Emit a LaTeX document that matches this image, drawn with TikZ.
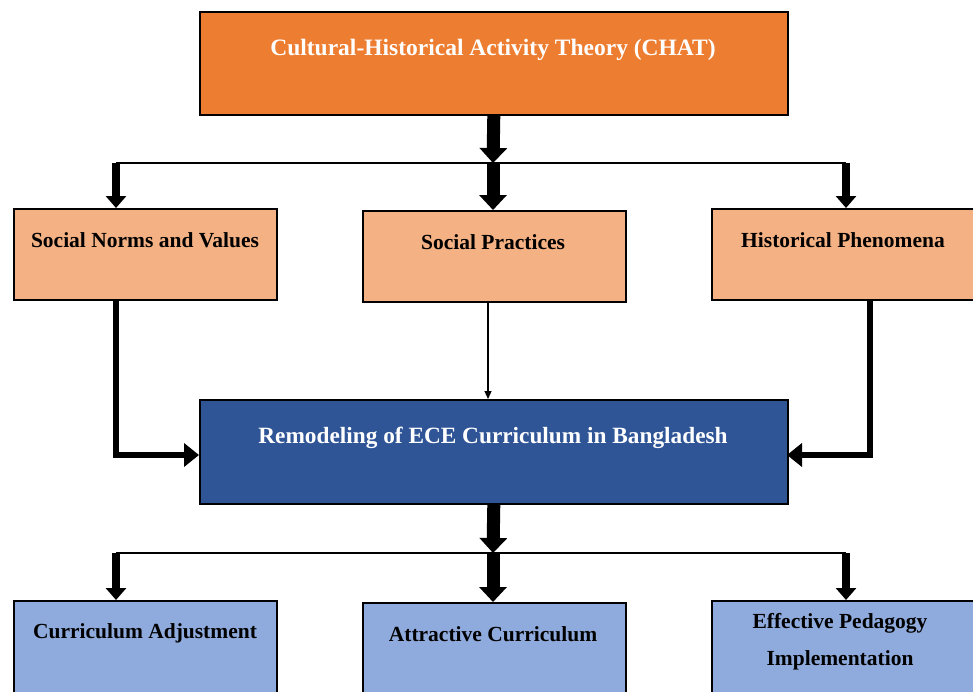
\documentclass[tikz,border=0pt]{standalone}
\usepackage{fontspec}
\setmainfont{Liberation Serif}
\usetikzlibrary{arrows.meta}
\definecolor{orangeA}{HTML}{ED7D31}
\definecolor{peach}{HTML}{F4B183}
\definecolor{navy}{HTML}{2F5597}
\definecolor{lblue}{HTML}{8FAADC}
\begin{document}
\begin{tikzpicture}[x=1pt,y=-1pt,
  box/.style={draw=black,line width=1.6pt,anchor=north west,inner sep=0pt},
  lbl/.style={font=\bfseries\fontsize{21.5}{24}\selectfont,inner sep=0pt,align=center},
  bigarrow/.style={line width=13pt,-{Triangle[width=27pt,length=15pt]}},
  elbow/.style={line width=6pt,-{Triangle[width=23pt,length=15pt]}},
  smallarrow/.style={line width=8pt,-{Triangle[width=20pt,length=12pt]}},
  thin/.style={line width=1.8pt}]
\useasboundingbox (0,0) rectangle (973,691);
\begin{scope}
\clip (0,0) rectangle (973,691);
% boxes
\node[box,fill=orangeA,minimum width=588pt,minimum height=103pt] (top) at (199,11) {};
\node[box,fill=peach,minimum width=263pt,minimum height=91pt] (b1) at (13,208) {};
\node[box,fill=peach,minimum width=263pt,minimum height=91pt] (b2) at (362,210) {};
\node[box,fill=peach,minimum width=263pt,minimum height=91pt] (b3) at (711,208) {};
\node[box,fill=navy,minimum width=588pt,minimum height=104pt] (mid) at (199,399) {};
\node[box,fill=lblue,minimum width=263pt,minimum height=100pt] (c1) at (13,600) {};
\node[box,fill=lblue,minimum width=263pt,minimum height=100pt] (c2) at (362,602) {};
\node[box,fill=lblue,minimum width=263pt,minimum height=100pt] (c3) at (711,600) {};
% texts
\node[lbl,text=white,font=\bfseries\fontsize{23.5}{26}\selectfont] (ttop) at (493,50) {Cultural-Historical Activity Theory (CHAT)};
\node[lbl] (t1) at (145,240) {Social Norms and Values};
\node[lbl] (t2) at (493,242) {Social Practices};
\node[lbl] (t3) at (843,240) {Historical Phenomena};
\node[lbl,text=white,font=\bfseries\fontsize{23.3}{26}\selectfont] (tmid) at (493,438) {Remodeling of ECE Curriculum in Bangladesh};
\node[lbl] (u1) at (145,633) {Curriculum Adjustment};
\node[lbl] (u2) at (493,634) {Attractive Curriculum};
\node[lbl,font=\bfseries\fontsize{21.5}{37}\selectfont] (u3) at (840,642) {Effective Pedagogy\\Implementation};
% coordinates
\coordinate (h1L) at (116,163);
\coordinate (h1M) at (493,163);
\coordinate (h1R) at (846,163);
\coordinate (h2L) at (116,553);
\coordinate (h2M) at (493,553);
\coordinate (h2R) at (846,553);
\coordinate (eL) at (116,455);
\coordinate (eR) at (870,455);
\coordinate (eLt) at (199,455);
\coordinate (eRt) at (787,455);
% connectors upper
\draw[bigarrow] (top.south) -- (h1M);
\draw[thin] (h1L) -- (h1R);
\draw[smallarrow] (h1L) -- (h1L |- b1.north);
\draw[bigarrow] (h1M) -- (h1M |- b2.north);
\draw[smallarrow] (h1R) -- (h1R |- b3.north);
% middle
\draw[line width=1.2pt,-{Triangle[width=7pt,length=8pt]}] (488,301) coordinate (s2) -- (s2 |- mid.north);
\draw[elbow] (116,299) coordinate (s1) -- (eL) -- (eLt);
\draw[elbow] (870,299) coordinate (s3) -- (eR) -- (eRt);
% lower
\draw[bigarrow] (mid.south) -- (h2M);
\draw[thin] (h2L) -- (h2R);
\draw[smallarrow] (h2L) -- (h2L |- c1.north);
\draw[bigarrow] (h2M) -- (h2M |- c2.north);
\draw[smallarrow] (h2R) -- (h2R |- c3.north);
\end{scope}
\end{tikzpicture}
\end{document}
